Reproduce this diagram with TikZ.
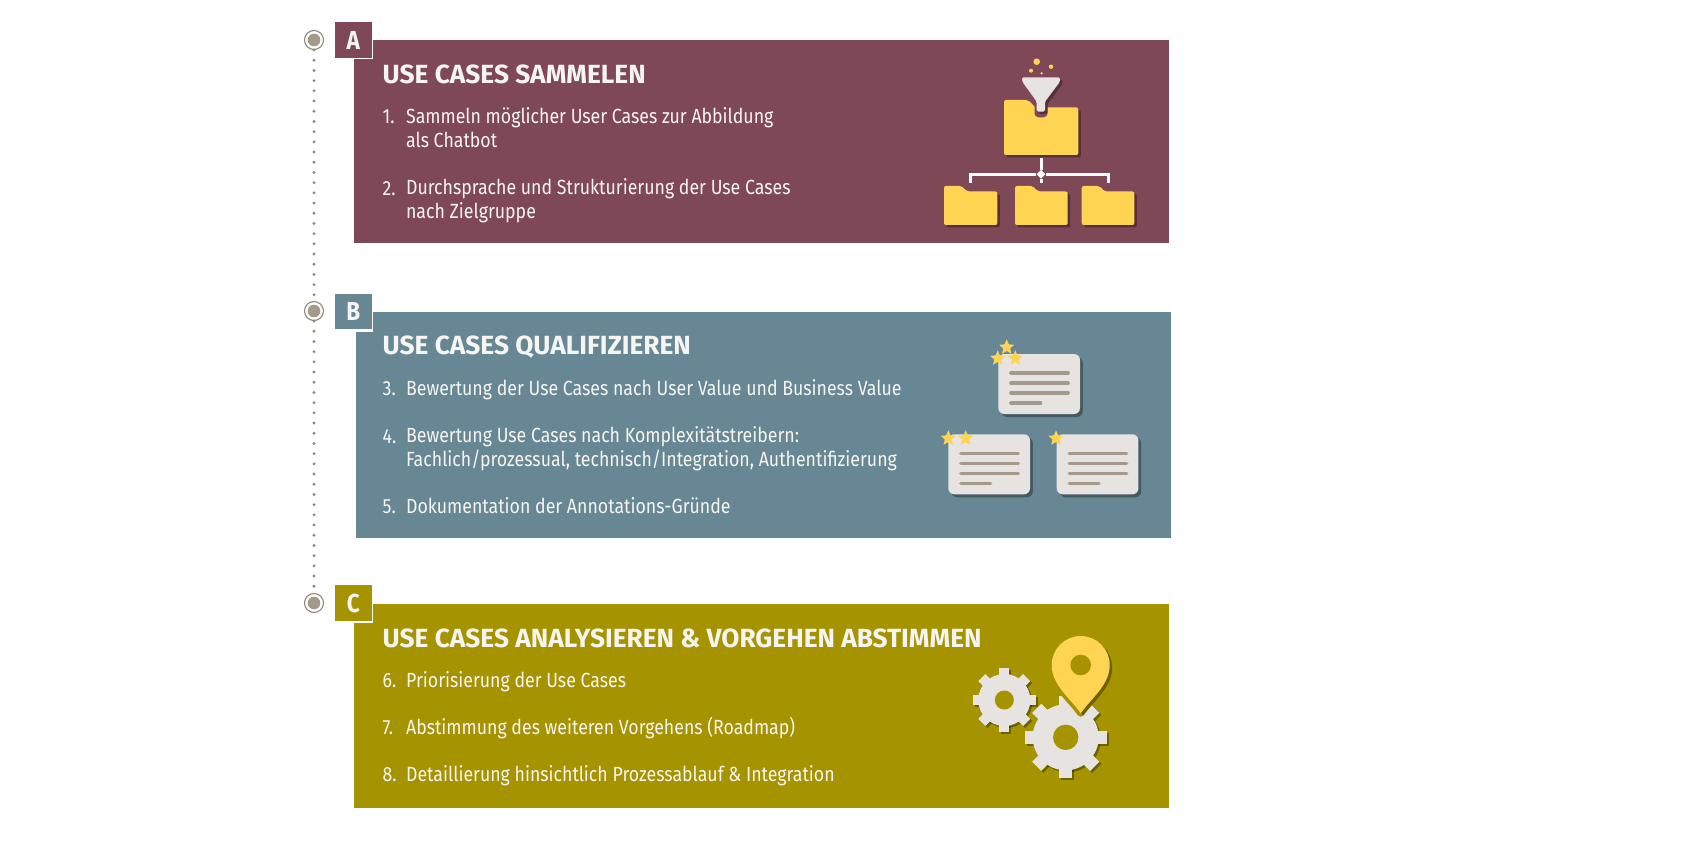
\documentclass[tikz,border=0pt]{standalone}
\usepackage{fontspec}
\usepackage{tikz}
\usetikzlibrary{shapes.geometric}
\usetikzlibrary{positioning}
\newfontfamily\boxfont[FakeStretch=0.865]{Fira Sans}
\newfontfamily\headfont[FakeStretch=1.0]{Fira Sans}
\definecolor{wine}{HTML}{7F4856}
\definecolor{steel}{HTML}{678795}
\definecolor{olive}{HTML}{A59300}
\definecolor{folderyellow}{HTML}{FFD452}
\definecolor{paper}{HTML}{E6E3E0}
\definecolor{rule}{HTML}{A39A8C}
\definecolor{dotgrey}{HTML}{8F887A}
\definecolor{offwhite}{HTML}{F7F5F2}
\tikzset{
  panel/.style={rectangle,inner sep=0pt,draw=none},
  tagbox/.style={rectangle,inner sep=0pt,minimum width=36.5pt,minimum height=35.5pt,text=offwhite,font=\boxfont\bfseries\fontsize{26}{30}\selectfont},
  headline/.style={anchor=west,inner sep=0pt,text=offwhite,font=\headfont\bfseries\fontsize{26.3}{30}\selectfont},
  numlabel/.style={anchor=north west,inner sep=0pt,text width=23pt,align=left,text=offwhite,font=\boxfont\fontsize{20.5}{24}\selectfont,execute at begin node=\strut},
  itemlabel/.style={anchor=north west,inner sep=0pt,align=left,text=offwhite,font=\boxfont\fontsize{20.5}{24}\selectfont,execute at begin node=\strut},
  ringdot/.style={circle,inner sep=0pt,minimum size=19pt,draw=dotgrey,line width=1.1pt,fill=white},
  dotline/.style={draw=dotgrey,line width=3.2pt,line cap=round,dash pattern=on 0pt off 10.2pt},
  treeline/.style={draw=white,line width=3pt},
  iconshadow/.style={fill=black,fill opacity=0.33},
  gold/.style={star,star points=5,star point ratio=2.2,inner sep=0pt,minimum size=16pt,fill=folderyellow},
}
% folder: left, top, right, bottom, tab end, tab step
\newcommand{\foldershape}[7]{
  \fill[#7,rounded corners=2pt] (#1,#2) -- (#5,#2) -- (#5+#6,#2+#6) -- (#3,#2+#6) -- (#3,#4) -- (#1,#4) -- cycle;
}
\newcommand{\foldericon}[6]{
  \foldershape{#1+2.5}{#2+2.5}{#3+2.5}{#4+2.5}{#5+2.5}{#6}{iconshadow}
  \foldershape{#1}{#2}{#3}{#4}{#5}{#6}{fill=folderyellow}
}
% card: left, top, end of short line
\newcommand{\cardicon}[3]{
  \fill[iconshadow,rounded corners=6pt] (#1+3,#2+3) rectangle (#1+84.5,#2+63);
  \fill[paper,rounded corners=6pt] (#1,#2) rectangle (#1+81.7,#2+60);
  \foreach \row in {19,29,39} {
    \draw[rule,line width=3.2pt,line cap=round] (#1+12.5,#2+\row) -- (#1+70,#2+\row);
  }
  \draw[rule,line width=3.2pt,line cap=round] (#1+12.5,#2+49) -- (#3,#2+49);
}
% gear: x, y, body, outer, tooth, colour options
\newcommand{\gearshape}[6]{
  \begin{scope}[shift={(#1,#2)}]
    \foreach \a in {0,45,...,315} {
      \fill[#6,rotate=\a] (-#5/2,#3-2) rectangle (#5/2,#4);
    }
    \fill[#6] (0,0) circle (#3);
  \end{scope}
}
\newcommand{\pinpath}{(1080.7,713.3) .. controls (1070,698) and (1051.7,685) .. (1051.7,665) .. controls (1051.7,649) and (1064.7,636) .. (1080.7,636) .. controls (1096.7,636) and (1109.7,649) .. (1109.7,665) .. controls (1109.7,685) and (1091.4,698) .. cycle}
\begin{document}
\begin{tikzpicture}
[x=1pt,y=-1pt]
  \useasboundingbox (0,0) rectangle (1700,850);
  \fill[white] (0,0) rectangle (1700,850);
%
  \node[ringdot] (c1) at (314,40) {};
  \node[ringdot] (c2) at (314,311) {};
  \node[ringdot] (c3) at (314,603) {};
  \foreach \c in {c1,c2,c3} {\fill[rule] (\c) circle (6.3);}
  \draw[dotline] (c1) -- (c2);
  \draw[dotline] (c2) -- (c3);
%
  \node[panel,fill=wine,minimum width=815.5pt,minimum height=203pt] (boxa) at (761.3,141.5) {};
  \fill[white] (335,22) rectangle (373,59.5);
  \node[tagbox,fill=wine] (taga) at (353.3,40) {A};
  \node[headline] (a0) at (382.5,74.5) {USE CASES SAMMELEN};
  \node[numlabel] (a1) at (382.5,107) {1.};
  \node[itemlabel] (a1t) at (a1.north east) {Sammeln möglicher User Cases zur Abbildung\\als Chatbot};
  \node[numlabel] (a2) [below =47pt of a1] {2.};
  \node[itemlabel] (a2t) at (a2.north east) {Durchsprache und Strukturierung der Use Cases\\nach Zielgruppe};
%
  \node[panel,fill=steel,minimum width=815.5pt,minimum height=226pt] (boxb) at (763.4,425) {};
  \fill[white] (335,293.5) rectangle (373,331.5);
  \node[tagbox,fill=steel] (tagb) at (353.3,311.5) {B};
  \node[headline] (b0) at (382.5,347) {USE CASES QUALIFIZIEREN};
  \node[numlabel] (b1) at (382.5,378) {3.};
  \node[itemlabel] (b1t) at (b1.north east) {Bewertung der Use Cases nach User Value und Business Value};
  \node[numlabel] (b2) [below =24pt of b1] {4.};
  \node[itemlabel] (b2t) at (b2.north east) {Bewertung Use Cases nach Komplexitätstreibern:\\Fachlich/prozessual, technisch/Integration, Authentifizierung};
  \node[numlabel] (b3) [below =46pt of b2] {5.};
  \node[itemlabel] (b3t) at (b3.north east) {Dokumentation der Annotations-Gründe};
%
  \node[panel,fill=olive,minimum width=815.5pt,minimum height=204pt] (boxc) at (761.3,706) {};
  \fill[white] (335,585) rectangle (373,623);
  \node[tagbox,fill=olive] (tagc) at (353.3,603) {C};
  \node[headline] (c0) at (382.5,638) {USE CASES ANALYSIEREN \& VORGEHEN ABSTIMMEN};
  \node[numlabel] (c4) at (382.5,670) {6.};
  \node[itemlabel] (c4t) at (c4.north east) {Priorisierung der Use Cases};
  \node[numlabel] (c5) [below =23pt of c4] {7.};
  \node[itemlabel] (c5t) at (c5.north east) {Abstimmung des weiteren Vorgehens (Roadmap)};
  \node[numlabel] (c6) [below =23pt of c5] {8.};
  \node[itemlabel] (c6t) at (c6.north east) {Detaillierung hinsichtlich Prozessablauf \& Integration};
%
  % icon of panel A
  \fill[folderyellow] (1036.7,61.7) circle (3.3);
  \fill[folderyellow] (1051,66.7) circle (2.2);
  \fill[folderyellow] (1031,70.7) circle (2);
  \fill[folderyellow] (1041.7,73.3) circle (1.3);
  \foldericon{1004}{100}{1078.3}{155}{1028}{7.5}
  \fill[wine,rounded corners=4pt] (1034.5,100) rectangle (1047.5,117.3);
  \fill[iconshadow,rounded corners=1.5pt] (1024.5,79.5) -- (1062.5,79.5) -- (1062.5,84) -- (1047.5,104) -- (1047.5,114) -- (1039.2,114) -- (1039.2,104) -- (1024.8,84) -- cycle;
  \fill[paper,rounded corners=1.5pt] (1022,77.3) -- (1060,77.3) -- (1060,81.7) -- (1045,101.7) -- (1045,111.7) -- (1036.7,111.7) -- (1036.7,101.7) -- (1022.3,81.7) -- cycle;
  \foldericon{944}{186}{997.3}{225}{961.7}{5.5}
  \foldericon{1015}{186}{1067.7}{225}{1032.7}{5.5}
  \foldericon{1081.7}{186}{1134.3}{225}{1099.4}{5.5}
  \coordinate (fbig) at (1041,158);
  \coordinate (fa) at (970.7,183);
  \coordinate (fb) at (1041,183);
  \coordinate (fc) at (1108.3,183);
  \node[diamond,fill=white,inner sep=0pt,minimum size=9pt] (joint) at (1041,174.3) {};
  \draw[treeline] (fbig) -- (joint);
  \draw[treeline] (joint) -- (fb);
  \draw[treeline] (fa) |- (joint);
  \draw[treeline] (fc) |- (joint);
%
  % icon of panel B
  \cardicon{998.3}{354}{1040.7}
  \cardicon{948.3}{434.3}{990.7}
  \cardicon{1056.7}{434.3}{1099}
  \node[gold] (s1) at (1006.7,347.3) {};
  \node[gold] (s2) at (997.7,358.3) {};
  \node[gold] (s3) at (1015.3,358.3) {};
  \node[gold] (s4) at (948.3,438.3) {};
  \node[gold] (s5) at (965.7,438.3) {};
  \node[gold] (s6) at (1056,438.3) {};
%
  % icon of panel C
  \gearshape{1006.3}{702}{26}{31.7}{10}{iconshadow}
  \gearshape{1067.7}{739.3}{33}{41}{13}{iconshadow}
  \gearshape{1004.3}{700}{26}{31.7}{10}{paper}
  \gearshape{1065.7}{737.3}{33}{41}{13}{paper}
  \fill[olive] (1004.3,700) circle (9.5);
  \fill[olive] (1065.7,737.3) circle (12.7);
  \draw[olive,line width=7pt,line join=round] \pinpath;
  \begin{scope}[shift={(2.5,2.5)}]
    \fill[iconshadow] \pinpath;
  \end{scope}
  \fill[folderyellow] \pinpath;
  \fill[olive] (1080.7,665) circle (10.3);
\end{tikzpicture}
\end{document}
